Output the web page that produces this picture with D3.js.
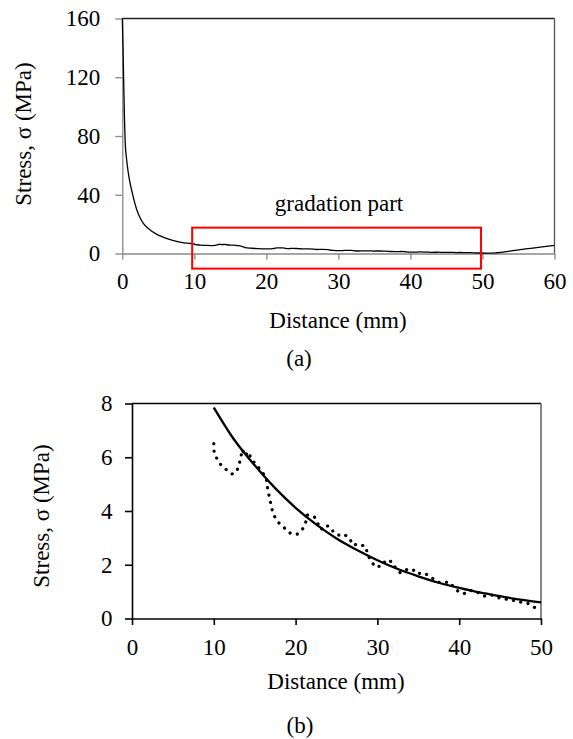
<!DOCTYPE html>
<html>
  <head>
    <meta charset="utf-8">
    <title>Stress vs distance</title>
    <script src="https://d3js.org/d3.v7.min.js"></script>
    <style>
      body { margin: 0; background: #fff; }
      svg { display: block; }
      text { fill: #000; font-family: "Liberation Serif", "DejaVu Serif", serif; }
    </style>
  </head>
  <body>
    <svg id="chart" width="573" height="739"></svg>
    <script>
      // near field, 0 to 10 mm (only in panel a)
      nearDistance = [0, 0.1, 0.2, 0.3, 0.4, 0.6, 0.8, 1.0, 1.4, 2.0, 2.5, 3.0, 4.0, 5.0, 6.0, 7.0, 8.0, 9.0, 9.5];
      nearStress = [160, 140, 115, 92, 76, 64, 56, 50, 41, 30, 24, 20, 15.5, 12.5, 10.5, 9, 7.8, 7.0, 6.8];
      // gradation part, 10 to 50 mm (dotted in panel b)
      gradDistance = [10.0, 10.04, 10.36, 10.9, 11.6, 12.3, 12.86, 13.2, 13.5, 13.75, 14.3, 14.5, 15.4, 15.85, 16.4, 16.5, 16.7, 16.9, 17.1, 17.4,
        17.95, 18.7, 19.4, 20.2, 20.9, 21.25, 21.4, 22.3, 23.1, 23.6, 24.2, 24.6, 25.2, 25.9, 26.6, 27.0, 27.7, 28.6, 28.8, 29.2,
        29.7, 30.6, 31.0, 31.8, 32.2, 32.8, 33.6, 34.3, 34.8, 35.7, 36.5, 37.3, 37.9, 38.8, 39.3, 39.95, 40.6, 41.3, 42.2, 42.95,
        44.0, 44.6, 45.5, 46.4, 46.9, 47.8, 48.4, 49.55, 49.9];
      gradStress = [6.51, 6.2, 5.96, 5.7, 5.52, 5.37, 5.52, 5.86, 6.29, 6.05, 6.2, 5.96, 5.65, 5.46, 5.25, 4.96, 4.65, 4.37, 4.07, 3.81,
        3.56, 3.35, 3.16, 3.14, 3.35, 3.6, 3.85, 3.78, 3.31, 3.47, 3.41, 3.23, 3.1, 3.14, 2.98, 2.73, 2.77, 2.67, 2.36, 2.17,
        1.92, 1.96, 2.17, 2.11, 1.89, 1.70, 1.82, 1.84, 1.67, 1.70, 1.55, 1.36, 1.33, 1.36, 1.18, 0.99, 0.93, 1.05, 0.99, 0.83,
        0.87, 0.78, 0.74, 0.66, 0.68, 0.58, 0.56, 0.35, 0.35];
      // beyond 50 mm (only in panel a)
      farDistance = [51, 52, 54, 56, 58, 60];
      farStress = [0.2, 0.5, 1.8, 3.1, 4.3, 5.6];
      // fitted curve in panel b
      fitDistance = [10, 12.5, 15, 17.5, 20, 22.5, 25, 27.5, 30, 32.5, 35, 37.5, 40, 42.5, 45, 47.5, 50];
      fitStress = [7.85, 6.65, 5.7, 4.85, 4.12, 3.5, 2.98, 2.55, 2.17, 1.84, 1.57, 1.33, 1.14, 0.97, 0.83, 0.7, 0.6];
      // ticks
      xTicksA = [0, 10, 20, 30, 40, 50, 60];
      yTicksA = [0, 40, 80, 120, 160];
      xTicksB = [0, 10, 20, 30, 40, 50];
      yTicksB = [0, 2, 4, 6, 8];
      // gradation box, data units of panel a
      boxDistance = [9.7, 49.8];
      boxStress = [-10.3, 17.6];

      fontSize = 23;
      serif = "'Liberation Serif', 'DejaVu Serif', serif";
      svg = d3.select("#chart").attr("font-family", serif);

      function styleAxis(g, colour) {
        g.attr("font-family", serif).attr("font-size", fontSize);
        g.select(".domain").attr("stroke", colour);
        g.selectAll(".tick line").attr("stroke", colour);
        g.selectAll(".tick text").attr("fill", "#000");
      }
      function label(g, x, y, str, rotate) {
        return g.append("text")
          .attr("transform", "translate(" + x + "," + y + ")" + (rotate ? " rotate(-90)" : ""))
          .attr("text-anchor", "middle")
          .attr("font-family", serif)
          .attr("font-size", fontSize)
          .text(str);
      }

      // ---- panel (a)
      xA = d3.scaleLinear().domain([0, 60]).range([122.3, 554.5]);
      yA = d3.scaleLinear().domain([0, 160]).range([253.5, 18.5]);
      panelA = svg.append("g");
      panelA.append("line")
        .attr("x1", xA(0)).attr("x2", xA(60))
        .attr("y1", yA(160)).attr("y2", yA(160))
        .attr("stroke", "#222").attr("stroke-width", 1.3);
      panelA.append("line")
        .attr("x1", xA(60)).attr("x2", xA(60))
        .attr("y1", yA(160)).attr("y2", yA(0))
        .attr("stroke", "#555").attr("stroke-width", 1.3);
      panelA.append("g")
        .attr("transform", "translate(0," + yA(0) + ")")
        .attr("stroke-width", 1.3)
        .call(d3.axisBottom(xA).tickValues(xTicksA).tickSize(6).tickPadding(13).tickSizeOuter(0))
        .call(styleAxis, "#888");
      panelA.append("g")
        .attr("transform", "translate(" + xA(0) + ",0)")
        .attr("stroke-width", 1.3)
        .call(d3.axisLeft(yA).tickValues(yTicksA).tickSize(7).tickPadding(15).tickSizeOuter(0))
        .call(styleAxis, "#888");

      seriesA = nearDistance.map(function(d, i) { return [d, nearStress[i]]; })
        .concat(gradDistance.map(function(d, i) { return [d, gradStress[i]]; }))
        .concat(farDistance.map(function(d, i) { return [d, farStress[i]]; }));
      lineA = d3.line()
        .x(function(d) { return xA(d[0]); })
        .y(function(d) { return yA(d[1]); })
        .curve(d3.curveMonotoneX);
      panelA.append("path")
        .datum(seriesA)
        .attr("d", lineA)
        .attr("fill", "none")
        .attr("stroke", "#000")
        .attr("stroke-width", 1.3);
      panelA.append("rect")
        .attr("x", xA(boxDistance[0]))
        .attr("y", yA(boxStress[1]))
        .attr("width", xA(boxDistance[1]) - xA(boxDistance[0]))
        .attr("height", yA(boxStress[0]) - yA(boxStress[1]))
        .attr("fill", "none")
        .attr("stroke", "#ff0000")
        .attr("stroke-width", 2);
      label(panelA, 339, 211, "gradation part");
      label(panelA, 338, 328, "Distance (mm)");
      label(panelA, 31, 134, "Stress, σ (MPa)", true);
      label(panelA, 299, 366, "(a)");

      // ---- panel (b)
      xB = d3.scaleLinear().domain([0, 50]).range([132, 541]);
      yB = d3.scaleLinear().domain([0, 8]).range([618.5, 403.5]);
      panelB = svg.append("g");
      panelB.append("line")
        .attr("x1", xB(0)).attr("x2", xB(50))
        .attr("y1", yB(8)).attr("y2", yB(8))
        .attr("stroke", "#000").attr("stroke-width", 1.6);
      panelB.append("line")
        .attr("x1", xB(50)).attr("x2", xB(50))
        .attr("y1", yB(8)).attr("y2", yB(0))
        .attr("stroke", "#666").attr("stroke-width", 1.6);
      panelB.append("g")
        .attr("transform", "translate(0," + yB(0) + ")")
        .attr("stroke-width", 1.6)
        .call(d3.axisBottom(xB).tickValues(xTicksB).tickSize(6.5).tickPadding(13.5).tickSizeOuter(0))
        .call(styleAxis, "#000");
      panelB.append("g")
        .attr("transform", "translate(" + xB(0) + ",0)")
        .attr("stroke-width", 1.6)
        .call(d3.axisLeft(yB).tickValues(yTicksB).tickSize(7).tickPadding(12.5).tickSizeOuter(0))
        .call(styleAxis, "#000");

      lineB = d3.line()
        .x(function(d) { return xB(d[0]); })
        .y(function(d) { return yB(d[1]); });
      panelB.append("path")
        .datum(gradDistance.map(function(d, i) { return [d, gradStress[i]]; }))
        .attr("d", lineB)
        .attr("fill", "none")
        .attr("stroke", "#000")
        .attr("stroke-width", 3.2)
        .attr("stroke-linecap", "round")
        .attr("stroke-dasharray", "0.1,7.4");
      panelB.append("path")
        .datum(fitDistance.map(function(d, i) { return [d, fitStress[i]]; }))
        .attr("d", lineB.curve(d3.curveMonotoneX))
        .attr("fill", "none")
        .attr("stroke", "#000")
        .attr("stroke-width", 2.3);
      label(panelB, 336, 689, "Distance (mm)");
      label(panelB, 49, 516, "Stress, σ (MPa)", true);
      label(panelB, 300, 733, "(b)");
    </script>
  </body>
</html>
